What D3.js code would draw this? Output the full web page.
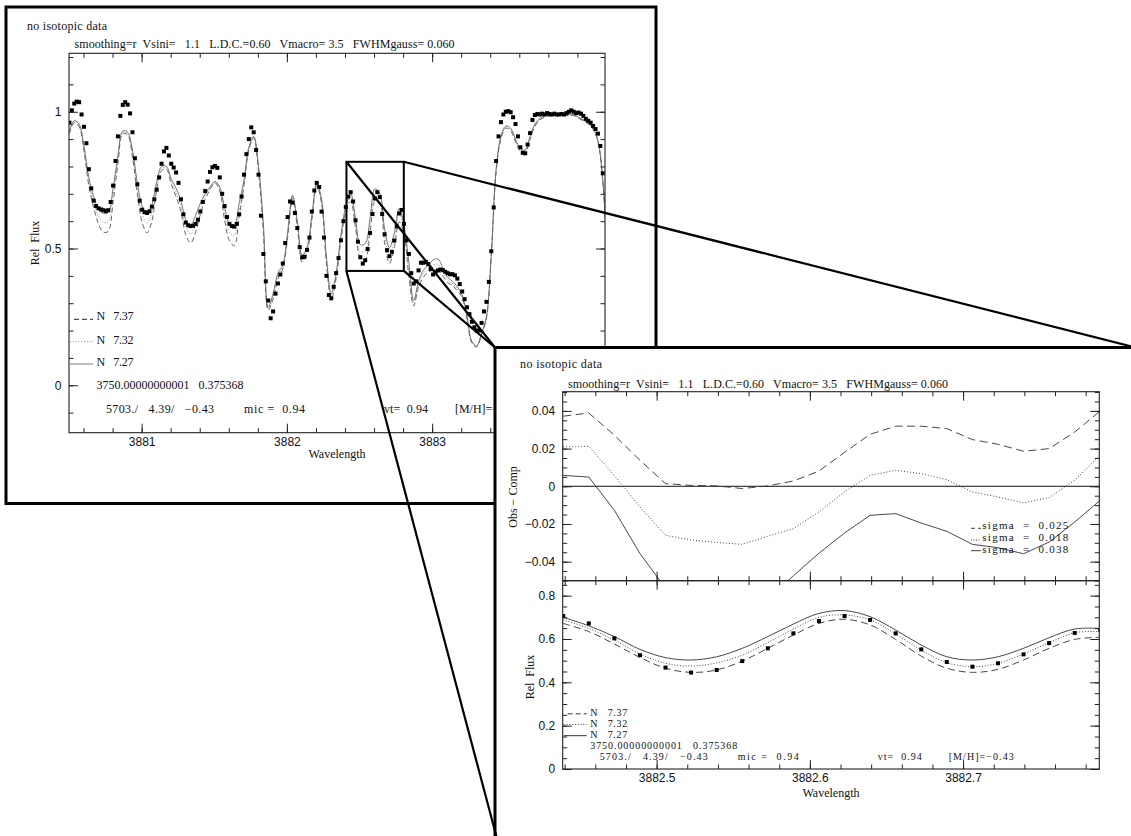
<!DOCTYPE html>
<html>
<head>
<meta charset="utf-8">
<script src="https://cdn.jsdelivr.net/npm/d3@7/dist/d3.min.js"></script>
<style>
body { margin: 0; background: #fff; }
svg text { font-family: "Liberation Serif", "Times New Roman", serif; font-size: 12px; fill: #111; white-space: pre; }
svg .tick text { font-family: "Liberation Sans", Arial, sans-serif; font-size: 12px; }
</style>
</head>
<body>
<script>
// observed spectrum, regular sampling in wavelength
const obsStart = 3880.503;
const obsStep = 0.01669;
const obsFlux = [
  0.96, 1.005, 1.03, 1.037, 1.035, 0.99, 0.945, 0.885, 0.79, 0.72,
  0.675, 0.655, 0.647, 0.643, 0.64, 0.637, 0.64, 0.67, 0.73, 0.82,
  0.91, 0.985, 1.025, 1.035, 1.026, 0.994, 0.925, 0.83, 0.735, 0.675,
  0.642, 0.633, 0.63, 0.636, 0.653, 0.68, 0.715, 0.76, 0.81, 0.855,
  0.868, 0.84, 0.81, 0.796, 0.778, 0.74, 0.68, 0.625, 0.595, 0.585,
  0.582, 0.583, 0.59, 0.605, 0.635, 0.67, 0.71, 0.745, 0.78, 0.797,
  0.802, 0.795, 0.76, 0.7, 0.655, 0.615, 0.59, 0.582, 0.58, 0.59,
  0.625, 0.69, 0.77, 0.845, 0.9, 0.943, 0.925, 0.86, 0.77, 0.62,
  0.48, 0.38, 0.31, 0.245, 0.27, 0.335, 0.372, 0.405, 0.445, 0.52,
  0.615, 0.672, 0.668, 0.63, 0.575, 0.505, 0.468, 0.47, 0.495, 0.54,
  0.635, 0.712, 0.74, 0.725, 0.635, 0.54, 0.4, 0.33, 0.318, 0.36,
  0.41, 0.465, 0.53, 0.6, 0.652, 0.69,
  0.706, 0.672, 0.603, 0.525, 0.468, 0.445, 0.457, 0.498, 0.557, 0.626, 0.683,
  0.706, 0.688, 0.626, 0.552, 0.494, 0.472, 0.488, 0.529, 0.581, 0.628, 0.641,
  0.59, 0.53, 0.48, 0.41, 0.372, 0.38, 0.42, 0.448, 0.448, 0.451, 0.443, 0.425,
  0.405, 0.415, 0.42, 0.423, 0.421, 0.415, 0.41, 0.406, 0.406, 0.402,
  0.39, 0.37, 0.343, 0.315, 0.285, 0.26, 0.232, 0.212, 0.2, 0.2,
  0.228, 0.27, 0.305, 0.378, 0.49, 0.65, 0.82, 0.91, 0.962, 0.99,
  1.0, 1.002, 0.998, 0.98, 0.955, 0.91, 0.87, 0.85, 0.848, 0.88,
  0.922, 0.97, 0.988, 0.992, 0.99, 0.993, 0.99, 0.995, 0.992, 0.99,
  0.993, 0.99, 0.99, 0.992, 0.99, 0.995, 1.0, 1.005, 1.0, 0.995,
  0.997, 0.993, 0.985, 0.974, 0.967, 0.96, 0.948, 0.937, 0.92, 0.875, 0.775
];

// synthetic spectra, sampled at every second observed point
const synStart = 3880.503;
const synStep = 0.03338;
const synN737 = [
  0.92, 0.96, 0.945, 0.855, 0.73, 0.65, 0.59, 0.56, 0.563, 0.67,
  0.81, 0.92, 0.915, 0.835, 0.70, 0.595, 0.557, 0.60, 0.715, 0.785,
  0.79, 0.735, 0.69, 0.635, 0.55, 0.52, 0.558, 0.625, 0.68, 0.715,
  0.74, 0.71, 0.605, 0.528, 0.51, 0.615, 0.73, 0.86, 0.904, 0.78,
  0.56, 0.275, 0.315, 0.39, 0.425, 0.54, 0.685, 0.58, 0.45, 0.485,
  0.605, 0.73, 0.665, 0.445, 0.315, 0.39, 0.53, 0.635, 0.672, 0.577,
  0.465, 0.46, 0.557, 0.672, 0.665, 0.521, 0.446, 0.503, 0.598, 0.555,
  0.40, 0.29, 0.36, 0.395, 0.415, 0.42, 0.42, 0.40, 0.375, 0.365,
  0.345, 0.32, 0.243, 0.155, 0.14, 0.185, 0.245, 0.47, 0.78, 0.9,
  0.94, 0.93, 0.89, 0.855, 0.85, 0.9, 0.946, 0.97, 0.98, 0.984,
  0.986, 0.986, 0.986, 0.986, 0.986, 0.976, 0.966, 0.956, 0.936, 0.89, 0.745, 0.45
];
const synN732 = [
  0.925, 0.964, 0.95, 0.865, 0.745, 0.67, 0.618, 0.595, 0.598, 0.695,
  0.825, 0.925, 0.92, 0.848, 0.72, 0.625, 0.593, 0.63, 0.73, 0.792,
  0.795, 0.745, 0.705, 0.655, 0.578, 0.553, 0.59, 0.645, 0.69, 0.72,
  0.742, 0.717, 0.628, 0.56, 0.548, 0.64, 0.74, 0.865, 0.907, 0.79,
  0.575, 0.28, 0.325, 0.4, 0.432, 0.55, 0.69, 0.59, 0.463, 0.495,
  0.612, 0.735, 0.672, 0.458, 0.325, 0.4, 0.54, 0.645, 0.688, 0.595,
  0.488, 0.49, 0.583, 0.70, 0.688, 0.549, 0.472, 0.531, 0.629, 0.568,
  0.41, 0.298, 0.37, 0.408, 0.428, 0.44, 0.442, 0.415, 0.385, 0.372,
  0.352, 0.325, 0.247, 0.158, 0.143, 0.188, 0.248, 0.475, 0.785, 0.905,
  0.944, 0.935, 0.895, 0.86, 0.855, 0.905, 0.95, 0.972, 0.982, 0.986,
  0.988, 0.988, 0.988, 0.988, 0.988, 0.978, 0.968, 0.958, 0.938, 0.892, 0.748, 0.45
];
const synN727 = [
  0.93, 0.968, 0.955, 0.875, 0.76, 0.69, 0.645, 0.628, 0.632, 0.72,
  0.84, 0.93, 0.925, 0.86, 0.74, 0.655, 0.628, 0.66, 0.745, 0.80,
  0.80, 0.755, 0.72, 0.675, 0.605, 0.585, 0.62, 0.665, 0.70, 0.725,
  0.745, 0.725, 0.65, 0.59, 0.583, 0.665, 0.75, 0.87, 0.91, 0.80,
  0.59, 0.285, 0.335, 0.41, 0.44, 0.56, 0.695, 0.6, 0.475, 0.505,
  0.62, 0.74, 0.68, 0.47, 0.335, 0.41, 0.55, 0.655, 0.70, 0.611,
  0.514, 0.518, 0.611, 0.718, 0.703, 0.572, 0.503, 0.557, 0.646, 0.585,
  0.45, 0.31, 0.38, 0.42, 0.44, 0.458, 0.462, 0.43, 0.395, 0.38,
  0.36, 0.33, 0.25, 0.16, 0.145, 0.19, 0.25, 0.48, 0.79, 0.91,
  0.948, 0.94, 0.9, 0.865, 0.86, 0.91, 0.955, 0.975, 0.985, 0.988,
  0.99, 0.99, 0.99, 0.99, 0.99, 0.98, 0.97, 0.96, 0.94, 0.895, 0.75, 0.45
];

// zoomed window = observed points 116..137
const zoomFirst = 116;
const zoomLast = 137;
const zoomN737 = [0.672, 0.634, 0.577, 0.515, 0.465, 0.446, 0.457, 0.498, 0.557, 0.618, 0.672,
                  0.691, 0.665, 0.598, 0.521, 0.465, 0.446, 0.46, 0.503, 0.557, 0.598, 0.608];
const zoomN732 = [0.688, 0.649, 0.595, 0.531, 0.488, 0.475, 0.49, 0.525, 0.583, 0.646, 0.70,
                  0.711, 0.688, 0.623, 0.549, 0.491, 0.472, 0.488, 0.531, 0.583, 0.629, 0.634];
const zoomN727 = [0.70, 0.661, 0.611, 0.552, 0.514, 0.503, 0.518, 0.557, 0.611, 0.669, 0.718,
                  0.731, 0.703, 0.641, 0.572, 0.518, 0.503, 0.518, 0.557, 0.606, 0.646, 0.649];

// obs - comp in the zoomed window
const resN737 = [0.0372, 0.0389, 0.0271, 0.0138, 0.0014, 0.0005, 0.0002, -0.0012, 0.0002, 0.0028, 0.0081,
                 0.018, 0.0276, 0.0319, 0.0319, 0.0306, 0.0248, 0.0223, 0.0186, 0.020, 0.0288, 0.040];
const resN732 = [0.0209, 0.0212, 0.0057, -0.011, -0.026, -0.0285, -0.0298, -0.0308, -0.0265, -0.0225, -0.0136,
                 -0.003, 0.0058, 0.0085, 0.0067, 0.0035, -0.003, -0.0057, -0.0088, -0.006, 0.0032, 0.0165];
const resN727 = [0.0058, 0.0049, -0.0127, -0.0357, -0.054, -0.068, -0.07, -0.064, -0.06, -0.0475, -0.0355,
                 -0.0248, -0.0154, -0.0145, -0.0195, -0.0239, -0.0308, -0.0326, -0.0358, -0.0296, -0.019, -0.0074];

const abund = [7.37, 7.32, 7.27];
const sigma = [0.025, 0.018, 0.038];

const wideXTicks = [3881, 3882, 3883];
const wideYTicks = [0, 0.5, 1];
const zoomXTicks = [3882.5, 3882.6, 3882.7];
const resYTicks = [-0.04, -0.02, 0, 0.02, 0.04];
const fluxYTicks = [0, 0.2, 0.4, 0.6, 0.8];

const headNote = "no isotopic data";
const headLine = "smoothing=r  Vsini=   1.1   L.D.C.=0.60   Vmacro= 3.5   FWHMgauss= 0.060";
const modelLine = "3750.00000000001   0.375368";
const paramText = ["5703./   4.39/   \u22120.43", "mic =  0.94", "vt=  0.94", "[M/H]=\u22120.43"];

// ------------------------------------------------------------
const obsWave = obsFlux.map((f, i) => obsStart + i * obsStep);
const synWave = synN727.map((f, k) => synStart + k * synStep);
const zoomWave = obsWave.slice(zoomFirst, zoomLast + 1);
const zoomObs = obsFlux.slice(zoomFirst, zoomLast + 1);

const svg = d3.select("body").append("svg").attr("width", 1131).attr("height", 836);
const defs = svg.append("defs");

const fmt = d3.format("~g");
const dashes = ["5,3", "1,1.8", null];

function clipTo(id, b) {
  defs.append("clipPath").attr("id", id).append("rect")
    .attr("x", b.x0).attr("y", b.y0).attr("width", b.x1 - b.x0).attr("height", b.y1 - b.y0);
  return "url(#" + id + ")";
}

function txt(g, x, y, s, len) {
  const t = g.append("text").attr("x", x).attr("y", y).text(s);
  if (len) t.attr("textLength", len).attr("lengthAdjust", "spacing");
  return t;
}

// PGPLOT style box: ticks inside on all four sides
function frame(g, x, y, b, o) {
  const ax = (axis, tr, vals, len, f, pad) => {
    const dm = axis.scale().domain();
    const lo = Math.min(dm[0], dm[1]) - 1e-9, hi = Math.max(dm[0], dm[1]) + 1e-9;
    g.append("g").attr("transform", tr)
      .call(axis.tickValues(vals.filter(v => v >= lo && v <= hi)).tickSize(-len)
        .tickPadding(pad || 3).tickFormat(f || (() => "")))
      .call(s => s.select(".domain").remove())
      .call(s => s.selectAll(".tick line").attr("stroke", "#222"));
  };
  const bot = `translate(0,${b.y1})`, top = `translate(0,${b.y0})`;
  const lft = `translate(${b.x0},0)`, rgt = `translate(${b.x1},0)`;
  ax(d3.axisBottom(x), bot, o.xMinor, 4.5);
  ax(d3.axisTop(x), top, o.xMinor, 4.5);
  ax(d3.axisBottom(x), bot, o.xMajor, 9, o.xLabels ? fmt : null, o.xPad);
  ax(d3.axisTop(x), top, o.xMajor, 9);
  ax(d3.axisLeft(y), lft, o.yMinor, 4.5);
  ax(d3.axisRight(y), rgt, o.yMinor, 4.5);
  ax(d3.axisLeft(y), lft, o.yMajor, 9, fmt, 7.5);
  ax(d3.axisRight(y), rgt, o.yMajor, 9);
  g.append("rect").attr("x", b.x0).attr("y", b.y0)
    .attr("width", b.x1 - b.x0).attr("height", b.y1 - b.y0)
    .attr("fill", "none").attr("stroke", "#222").attr("stroke-width", 1.1);
}

function infoBlock(g, x0, rows, samples, color, size) {
  const blk = g.append("g").style("font-size", size + "px");
  abund.forEach((a, j) => {
    blk.append("line").attr("x1", x0 + (j === 0 ? 5 : 1)).attr("x2", x0 + 24)
      .attr("y1", samples[j]).attr("y2", samples[j])
      .attr("stroke", color[j]).attr("stroke-width", 1)
      .attr("stroke-dasharray", dashes[j]);
    txt(blk, x0 + 27.5, rows[j], "N   " + a.toFixed(2), 37).style("font-size", size + "px");
  });
  txt(blk, x0 + 27.5, rows[3], modelLine, 147).style("font-size", size + "px");
  const px = [37, 175, 315, 386], lens = [108, 61, 44, 65];
  paramText.forEach((s, j) => txt(blk, x0 + px[j], rows[4], s, lens[j]).style("font-size", size + "px"));
}

// ---------------- wide panel ----------------
const L = {x0: 69, x1: 605, y0: 53.3, y1: 432.7};
const xL = d3.scaleLinear().domain([3880.5, 3884.19]).range([L.x0, L.x1]);
const yL = d3.scaleLinear().domain([-0.1734, 1.2137]).range([L.y1, L.y0]);

const gL = svg.append("g");
gL.append("rect").attr("x", 6).attr("y", 7).attr("width", 650).attr("height", 496.5)
  .attr("fill", "#fff").attr("stroke", "#000").attr("stroke-width", 3);

const plotL = gL.append("g").attr("clip-path", clipTo("clipL", L));
const lineL = d3.line().x(d => xL(d[0])).y(d => yL(d[1])).curve(d3.curveCatmullRom);
const wideColor = ["#555", "#888", "#666"];
[synN737, synN732, synN727].forEach((arr, j) => {
  plotL.append("path").datum(arr.map((v, k) => [synWave[k], v]))
    .attr("d", lineL).attr("fill", "none")
    .attr("stroke", wideColor[j]).attr("stroke-width", 0.9)
    .attr("stroke-dasharray", dashes[j]);
});
plotL.selectAll("rect.obs").data(obsFlux).join("rect").attr("class", "obs")
  .attr("x", (d, i) => xL(obsWave[i]) - 2).attr("y", d => yL(d) - 2)
  .attr("width", 4).attr("height", 4).attr("fill", "#000");

frame(gL, xL, yL, L, {
  xMajor: wideXTicks, xMinor: d3.range(3880.6, 3884.2, 0.2), xLabels: true, xPad: 5,
  yMajor: wideYTicks, yMinor: d3.range(-0.1, 1.25, 0.1)
});

txt(gL, 27, 30, headNote, 80);
txt(gL, 74.5, 47.5, headLine, 380);
gL.append("text").attr("x", (L.x0 + L.x1) / 2).attr("y", 457.5)
  .attr("text-anchor", "middle").text("Wavelength");
gL.append("text").attr("transform", `translate(39,${(L.y0 + L.y1) / 2}) rotate(-90)`)
  .attr("text-anchor", "middle").text("Rel  Flux");
infoBlock(gL, L.x0, [320.3, 343.6, 366, 388.6, 412.6], [319.3, 341.7, 364], ["#222", "#888", "#777"], 12);

// ---------------- zoomed panel ----------------
const RU = {x0: 562.7, x1: 1099.3, y0: 391.7, y1: 580.7};
const RL = {x0: 562.7, x1: 1099.3, y0: 580.7, y1: 769};
const xR = d3.scaleLinear().domain([3882.4387, 3882.7889]).range([RU.x0, RU.x1]);
const yU = d3.scaleLinear().domain([-0.0501, 0.0502]).range([RU.y1, RU.y0]);
const yR = d3.scaleLinear().domain([0, 0.869]).range([RL.y1, RL.y0]);

const gR = svg.append("g");
gR.append("rect").attr("x", 495).attr("y", 347.5).attr("width", 700).attr("height", 600)
  .attr("fill", "#fff").attr("stroke", "#000").attr("stroke-width", 3);

txt(gR, 520, 368, headNote, 82);
txt(gR, 568, 387.5, headLine, 380);

// residuals
const plotU = gR.append("g").attr("clip-path", clipTo("clipU", RU));
plotU.append("line").attr("x1", RU.x0).attr("x2", RU.x1)
  .attr("y1", yU(0)).attr("y2", yU(0)).attr("stroke", "#111").attr("stroke-width", 1);
const lineU = d3.line().x((d, i) => xR(zoomWave[i])).y(d => yU(d));
const resDash = ["8,4.5", "1,2", null];
[resN737, resN732, resN727].forEach((arr, j) => {
  plotU.append("path").datum(arr).attr("d", lineU).attr("fill", "none")
    .attr("stroke", "#333").attr("stroke-width", 0.9).attr("stroke-dasharray", resDash[j]);
});
frame(gR, xR, yU, RU, {
  xMajor: zoomXTicks, xMinor: d3.range(3882.44, 3882.79, 0.02), xLabels: false,
  yMajor: resYTicks, yMinor: d3.range(-0.05, 0.0501, 0.005)
});
const sigDash = ["4,3", "1,1.5", null];
[528.3, 540, 550.7].forEach((yy, j) => {
  gR.append("line").attr("x1", 971).attr("x2", 981).attr("y1", yy).attr("y2", yy)
    .attr("stroke", "#444").attr("stroke-width", 1).attr("stroke-dasharray", sigDash[j]);
  txt(gR, 982.3, [529, 541.2, 553.4][j], "sigma  =  " + sigma[j].toFixed(3), 86).style("font-size", "11px");
});
gR.append("text").attr("transform", `translate(517,497) rotate(-90)`)
  .attr("text-anchor", "middle").text("Obs \u2212 Comp");

// zoomed spectra
const plotR = gR.append("g").attr("clip-path", clipTo("clipR", RL));
const lineR = d3.line().x((d, i) => xR(zoomWave[i])).y(d => yR(d)).curve(d3.curveCatmullRom);
const zoomDash = ["7,4", "1,1.8", null];
[zoomN737, zoomN732, zoomN727].forEach((arr, j) => {
  plotR.append("path").datum(arr).attr("d", lineR).attr("fill", "none")
    .attr("stroke", "#333").attr("stroke-width", 0.9).attr("stroke-dasharray", zoomDash[j]);
});
plotR.selectAll("rect.obs").data(zoomObs).join("rect").attr("class", "obs")
  .attr("x", (d, i) => xR(zoomWave[i]) - 2).attr("y", d => yR(d) - 2)
  .attr("width", 4).attr("height", 4).attr("fill", "#000");
frame(gR, xR, yR, RL, {
  xMajor: zoomXTicks, xMinor: d3.range(3882.44, 3882.79, 0.02), xLabels: true, xPad: 4.5,
  yMajor: fluxYTicks, yMinor: d3.range(0, 0.87, 0.05)
});
gR.append("text").attr("x", (RL.x0 + RL.x1) / 2).attr("y", 796.5)
  .attr("text-anchor", "middle").text("Wavelength");
gR.append("text").attr("transform", `translate(533.5,677) rotate(-90)`)
  .attr("text-anchor", "middle").text("Rel  Flux");
infoBlock(gR, RL.x0, [715.5, 726.6, 737.7, 749, 760.3], [713.8, 724.5, 735.7], ["#333", "#444", "#333"], 10);

// ---------------- zoom box and connectors ----------------
const box = {w0: 3882.41, w1: 3882.805, f0: 0.418, f1: 0.817};
const bx0 = xL(box.w0), bx1 = xL(box.w1), by0 = yL(box.f1), by1 = yL(box.f0);
svg.append("rect").attr("x", bx0).attr("y", by0).attr("width", bx1 - bx0).attr("height", by1 - by0)
  .attr("fill", "none").attr("stroke", "#000").attr("stroke-width", 2);
const conn = [
  [[bx0, by0], [495, 347.5]],
  [[bx1, by1], [495, 347.5]],
  [[bx1, by0], [1140, 348.7]],
  [[bx0, by1], [500, 850]]
];
svg.selectAll("line.conn").data(conn).join("line").attr("class", "conn")
  .attr("x1", d => d[0][0]).attr("y1", d => d[0][1])
  .attr("x2", d => d[1][0]).attr("y2", d => d[1][1])
  .attr("stroke", "#000").attr("stroke-width", 2.2);
</script>
</body>
</html>
